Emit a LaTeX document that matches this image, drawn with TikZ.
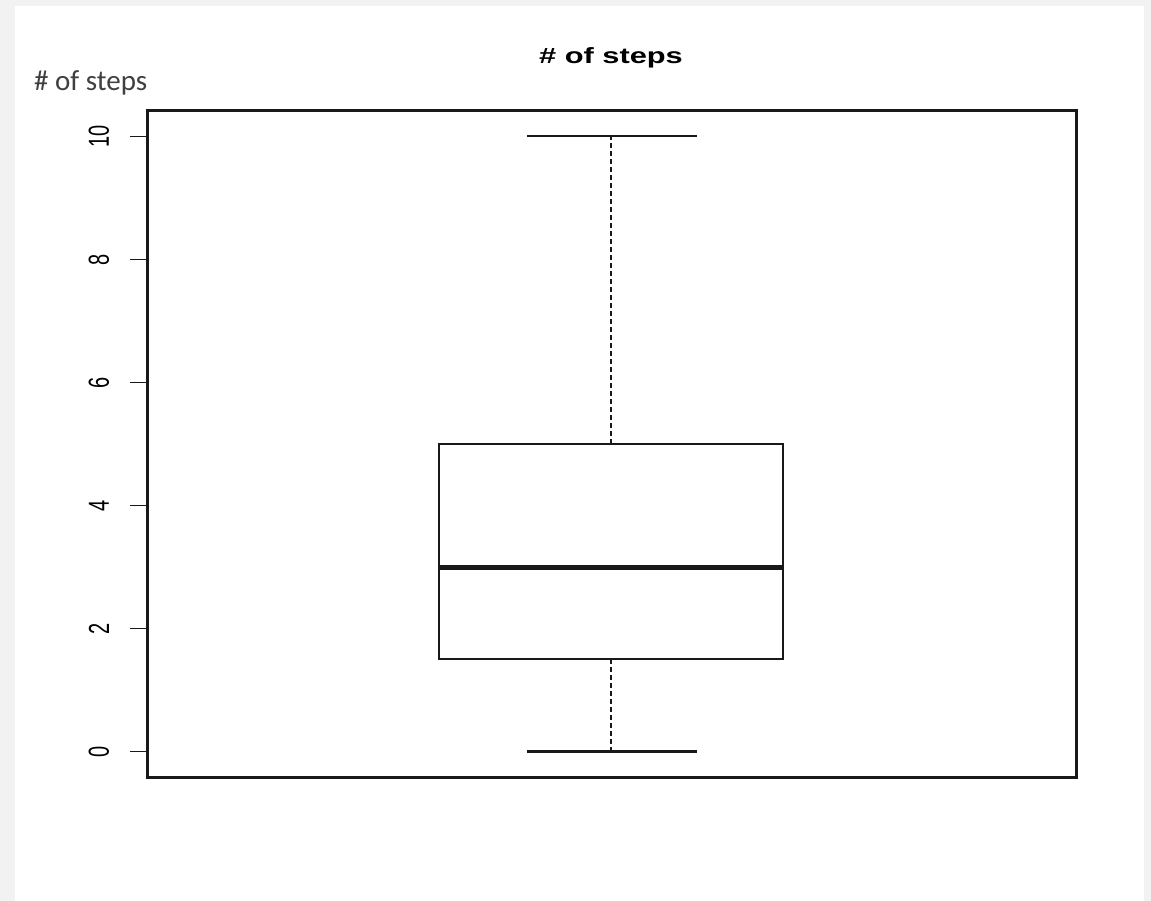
\documentclass[tikz,border=0pt]{standalone}
\usepackage{fontspec}
\setmainfont{Liberation Sans}
\newfontfamily\calfont{Carlito}
\usepackage{graphicx}
\definecolor{pagegray}{HTML}{F2F2F2}
\definecolor{labgray}{HTML}{404040}
\begin{document}
\begin{tikzpicture}[x=1pt,y=-1pt,
  frame/.style={line width=3pt,black!90},
  boxline/.style={line width=2.2pt,black!90},
  medline/.style={line width=5pt,black!90},
  whisk/.style={line width=2.2pt,black!90,dash pattern=on 5pt off 3pt},
  ticklab/.style={inner sep=0pt,font=\fontsize{20}{20}\selectfont},
  tickmark/.style={line width=1.6pt,black!90}]
\useasboundingbox (0,0) rectangle (1151,901);
\fill[pagegray] (0,0) rectangle (1151,901);
\fill[white] (15,6) rectangle (1144,901);
% title and label
\node[inner sep=0pt,anchor=base] (title) at (611,64) {\scalebox{1.4}[1]{\fontsize{22}{22}\selectfont\bfseries \# of steps}};
\node[inner sep=0pt,anchor=base west,text=labgray] (ylab) at (34,91) {\calfont\fontsize{29}{29}\selectfont \# of steps};
% frame
\draw[frame] (147,111) rectangle (1076,777);
% ticks: y(v) = 751.5 - 61.5 v
\foreach \v in {0,2,4,6,8,10} {
  \pgfmathsetmacro{\yy}{751.5-61.5*\v}
  \draw[tickmark] (130,\yy) -- (147,\yy);
  \node[ticklab] (t\v) at (99,\yy) {\scalebox{1.45}[1]{\rotatebox{90}{\v}}};
}
% box plot
\coordinate (capT1) at (527,136);
\coordinate (capT2) at (697,136);
\coordinate (capB1) at (527,751.5);
\coordinate (capB2) at (697,751.5);
\coordinate (qT) at (611,443.75);
\coordinate (qB) at (611,659.25);
\coordinate (wT) at (611,136);
\coordinate (wB) at (611,751.5);
\draw[whisk] (qT) -- (wT);
\draw[whisk] (qB) -- (wB);
\draw[boxline] (capT1) -- (capT2);
\draw[boxline] (capB1) -- (capB2);
\draw[boxline,fill=white] (439,443.75) rectangle (783,659.25);
\draw[medline] (439,567) -- (783,567);
\end{tikzpicture}
\end{document}
